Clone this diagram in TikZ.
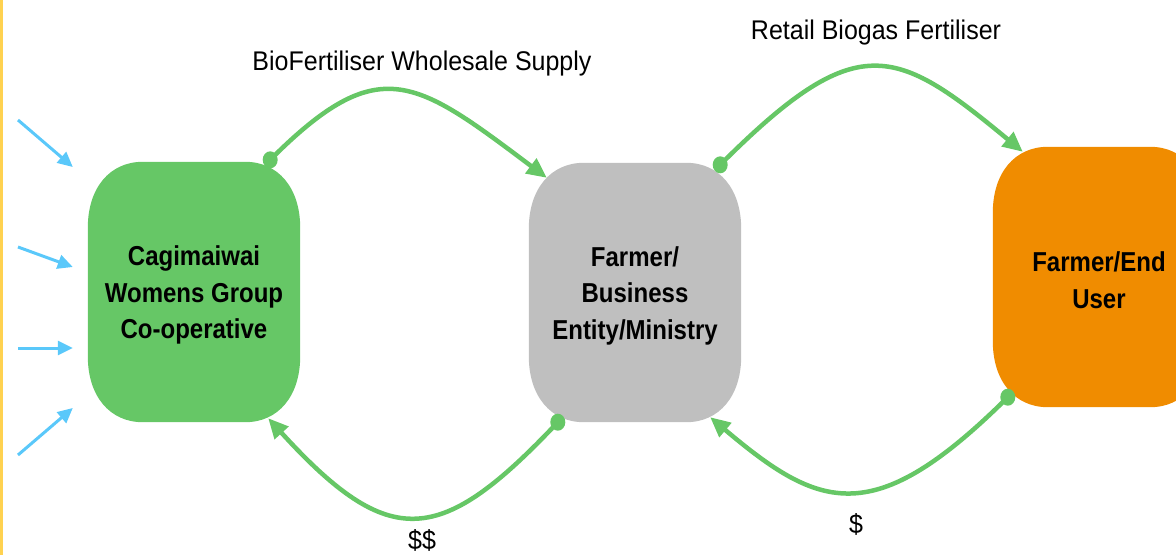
\documentclass[tikz,border=0pt]{standalone}
\usepackage{fontspec}
\setmainfont{Liberation Sans}
\usepackage{graphicx}
\usetikzlibrary{arrows.meta,backgrounds}
\definecolor{boxgreen}{RGB}{102,199,102}
\definecolor{arrowgreen}{RGB}{102,199,102}
\definecolor{boxgray}{RGB}{191,191,191}
\definecolor{boxorange}{RGB}{240,140,0}
\definecolor{arrowblue}{RGB}{90,200,250}
\definecolor{sideyellow}{RGB}{255,210,80}
\newcommand{\tallline}[1]{\scalebox{1}[1.14]{#1}}
\newcommand{\talllabel}[1]{\scalebox{1}[1.08]{#1}}
\newcommand{\toprule}{\rule{0pt}{26pt}}
% soft rounded box behind a named node
\newcommand{\softbox}[2]{%
  \begin{scope}[on background layer]
  \fill[#2] ([xshift=55pt]#1.north west) -- ([xshift=-55pt]#1.north east)
    .. controls +(33pt,0pt) and +(0pt,40pt) .. ([yshift=-66pt]#1.north east)
    -- ([yshift=66pt]#1.south east)
    .. controls +(0pt,-40pt) and +(33pt,0pt) .. ([xshift=-55pt]#1.south east)
    -- ([xshift=55pt]#1.south west)
    .. controls +(-33pt,0pt) and +(0pt,-40pt) .. ([yshift=66pt]#1.south west)
    -- ([yshift=-66pt]#1.north west)
    .. controls +(0pt,40pt) and +(-33pt,0pt) .. ([xshift=55pt]#1.north west)
    -- cycle;
  \end{scope}}
\begin{document}
\begin{tikzpicture}[x=1pt,y=-1pt,
  entity/.style={minimum width=212pt, minimum height=260pt,
    inner sep=0pt, align=center, font=\fontsize{24}{36.5}\selectfont\bfseries, text=black},
  flow/.style={line width=4.5pt, draw=arrowgreen, -{Triangle[length=20pt,width=18pt]}},
  flowdot/.style={fill=arrowgreen},
  feed/.style={line width=3pt, draw=arrowblue, -{Triangle[length=15pt,width=14pt]}},
  flowlabel/.style={font=\fontsize{25}{30}\selectfont, anchor=base, inner sep=0pt, text=black}]
\useasboundingbox (0,0) rectangle (1176,555);
\clip (0,0) rectangle (1176,555);
\fill[sideyellow] (0,0) rectangle (3,555);

% entities
\node[entity] (coop) at (194,292)
  {\toprule\tallline{Cagimaiwai}\\\tallline{Womens Group}\\\tallline{Co-operative}};
\node[entity, minimum height=259pt] (biz) at (635,292.5)
  {\toprule\tallline{Farmer/}\\\tallline{Business}\\\tallline{Entity/Ministry}};
\node[entity] (user) at (1099,277)
  {\toprule\tallline{Farmer/End}\\\tallline{User}};
\softbox{coop}{boxgreen}
\softbox{biz}{boxgray}
\softbox{user}{boxorange}

% connector ends
\coordinate (s1) at ([shift={(-30,-2)}]coop.north east);
\coordinate (e1) at ([shift={(18,15)}]biz.north west);
\coordinate (s2) at ([shift={(-21,2)}]biz.north east);
\coordinate (e2) at ([shift={(30,5)}]user.north west);
\coordinate (s3) at ([shift={(29,0)}]biz.south west);
\coordinate (e3) at ([shift={(-32,-4)}]coop.south east);
\coordinate (s4) at ([shift={(15,-10)}]user.south west);
\coordinate (e4) at ([shift={(-31,-5)}]biz.south east);

% flows
\draw[flow] (s1) .. controls +(109,-109) and +(-132,-99) .. (e1);
\draw[flow] (s2) .. controls +(137,-137) and +(-128,-106) .. (e2);
\draw[flow] (s3) .. controls +(-117,124) and +(122,134) .. (e3);
\draw[flow] (s4) .. controls +(-134,133) and +(110,93) .. (e4);
\foreach \p in {s1,s2,s3,s4}
  \fill[flowdot] (\p) ellipse [x radius=7.5pt, y radius=8.5pt];

% inputs
\coordinate (f1s) at (18,120);
\coordinate (f1e) at ([shift={(-15,-125)}]coop.west);
\coordinate (f2s) at (18,247);
\coordinate (f2e) at ([shift={(-15,-25)}]coop.west);
\coordinate (f3s) at (18,348);
\coordinate (f3e) at ([shift={(-15,56)}]coop.west);
\coordinate (f4s) at (18,455);
\coordinate (f4e) at ([shift={(-15,116)}]coop.west);
\draw[feed] (f1s) -- (f1e);
\draw[feed] (f2s) -- (f2e);
\draw[feed] (f3s) -- (f3e);
\draw[feed] (f4s) -- (f4e);

% labels
\node[flowlabel] (l1) at (422,70) {\talllabel{BioFertiliser Wholesale Supply}};
\node[flowlabel] (l2) at (876,39) {\talllabel{Retail Biogas Fertiliser}};
\node[flowlabel] (l3) at (422,549) {\talllabel{\$\$}};
\node[flowlabel] (l4) at (856,533) {\talllabel{\$}};
\end{tikzpicture}
\end{document}
